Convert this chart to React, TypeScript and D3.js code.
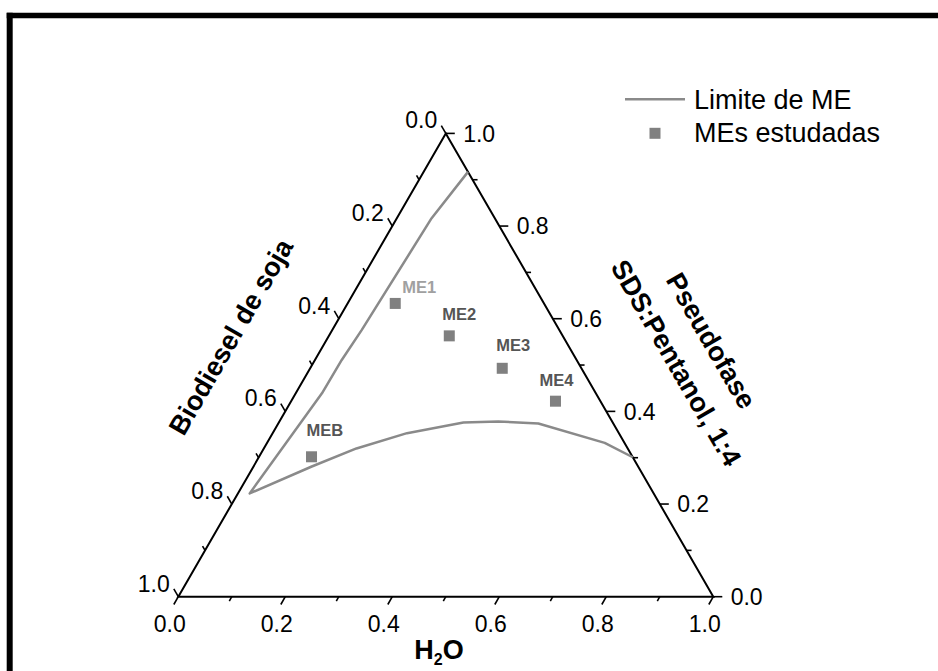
import React from "react";
import * as d3 from "d3";

// ---------- data ----------
const axisTicks = [0, 0.2, 0.4, 0.6, 0.8, 1.0];
const minorTicks = [0.1, 0.3, 0.5, 0.7, 0.9];

// Boundary of microemulsion region (Limite de ME): H2O and Pseudofase fractions
const limiteH2O = [0.083, 0.065, 0.055, 0.05, 0.049, 0.022, 0.109, 0.173, 0.251, 0.345, 0.409, 0.486, 0.631, 0.699];
const limitePseudo = [0.917, 0.817, 0.576, 0.511, 0.439, 0.223, 0.281, 0.32, 0.353, 0.376, 0.378, 0.374, 0.332, 0.301];

// Studied microemulsions (MEs estudadas)
const meNames = ["MEB", "ME1", "ME2", "ME3", "ME4"];
const meH2O = [0.098, 0.089, 0.225, 0.359, 0.494];
const mePseudo = [0.302, 0.633, 0.563, 0.493, 0.422];

// label styling / placement
const meLabelColors = ["#555555", "#a0a0a0", "#555555", "#555555", "#555555"];
const meLabelOffsets = [[-5, -27], [7, -16], [-7, -22], [-6, -23], [-16, -21]];

// ---------- layout ----------
const W = 938;
const H = 671;
const FONT = "'Liberation Sans', Arial, Helvetica, sans-serif";

const xS = d3.scaleLinear().domain([0, 1]).range([178.3, 713.3]);
const yS = d3.scaleLinear().domain([0, 1]).range([596.7, 133.4]);

// a = H2O (bottom), c = Pseudofase (right), b = Biodiesel = 1 - a - c
const proj = (a: number, c: number): [number, number] => [xS(a + c / 2), yS(c)];

const fmt = d3.format(".1f");

export default function App() {
  const limitePts = limiteH2O.map((a, i) => proj(a, limitePseudo[i]));
  const lineGen = d3.line<[number, number]>().x((d) => d[0]).y((d) => d[1]).curve(d3.curveLinear);

  const corners = [proj(0, 0), proj(1, 0), proj(0, 1)];
  const triPath = `M${corners[0][0]},${corners[0][1]}L${corners[1][0]},${corners[1][1]}L${corners[2][0]},${corners[2][1]}Z`;

  const allTicks = [...axisTicks.map((t) => ({ t, major: true })), ...minorTicks.map((t) => ({ t, major: false }))];

  const s3 = Math.sqrt(3) / 2;
  const dirBottom = [-0.5, s3];
  const dirLeft = [-0.5, -s3];
  const dirRight = [1, 0];

  const tickFs = 23;

  return (
    <svg
      width={W}
      height={H}
      style={{ position: "absolute", left: 0, top: 0, background: "#fff" }}
      fontFamily={FONT}
    >
      <rect x={0} y={0} width={W} height={H} fill="#fff" />
      {/* frame (clipped on right/bottom) */}
      <line x1={9.7} y1={12.7} x2={9.7} y2={H + 5} stroke="#000" strokeWidth={6} />
      <line x1={6.7} y1={15.5} x2={W + 5} y2={15.5} stroke="#000" strokeWidth={5.6} />

      {/* triangle */}
      <path d={triPath} fill="none" stroke="#000" strokeWidth={2} strokeLinejoin="miter" />

      {/* ticks */}
      {allTicks.map(({ t, major }, i) => {
        const len = major ? 9 : 5;
        const pb = proj(t, 0);
        const pl = proj(0, 1 - t);
        const pr = proj(1 - t, t);
        return (
          <g key={"tk" + i} stroke="#000" strokeWidth={1.6}>
            <line x1={pb[0]} y1={pb[1]} x2={pb[0] + dirBottom[0] * len} y2={pb[1] + dirBottom[1] * len} />
            <line x1={pl[0]} y1={pl[1]} x2={pl[0] + dirLeft[0] * len} y2={pl[1] + dirLeft[1] * len} />
            <line x1={pr[0]} y1={pr[1]} x2={pr[0] + dirRight[0] * len} y2={pr[1] + dirRight[1] * len} />
          </g>
        );
      })}

      {/* tick labels */}
      {axisTicks.map((t, i) => {
        const pb = proj(t, 0);
        const pl = proj(0, 1 - t);
        const pr = proj(1 - t, t);
        const eb = [pb[0] + dirBottom[0] * 9, pb[1] + dirBottom[1] * 9];
        const el = [pl[0] + dirLeft[0] * 9, pl[1] + dirLeft[1] * 9];
        return (
          <g key={"tl" + i} fontSize={tickFs} fill="#000">
            <text x={eb[0] - 4} y={632} textAnchor="middle">{fmt(t)}</text>
            <text x={el[0] - 4} y={el[1] - 5.5 + 8.3} textAnchor="end">{fmt(t)}</text>
            <text x={pr[0] + 17.4} y={pr[1] + 8.3} textAnchor="start">{fmt(t)}</text>
          </g>
        );
      })}

      {/* boundary line */}
      <path d={lineGen(limitePts) || ""} fill="none" stroke="#8a8a8a" strokeWidth={2.5} strokeLinejoin="round" />

      {/* studied points */}
      {meNames.map((name, i) => {
        const [x, y] = proj(meH2O[i], mePseudo[i]);
        const [dx, dy] = meLabelOffsets[i];
        return (
          <g key={name}>
            <rect x={x - 5.5} y={y - 5.5} width={11} height={11} fill="#808080" />
            <text
              x={x + dx}
              y={y + dy + 6}
              fontSize={16.5}
              fontWeight="bold"
              fill={meLabelColors[i]}
            >
              {name}
            </text>
          </g>
        );
      })}

      {/* axis titles */}
      <text x={439} y={659} textAnchor="middle" fontSize={27} fontWeight="bold">
        H<tspan fontSize={16} dy={6}>2</tspan>
        <tspan dy={-6}>O</tspan>
      </text>
      <text
        transform="translate(231,337) rotate(-60)"
        textAnchor="middle"
        dominantBaseline="central"
        fontSize={27}
        fontWeight="bold"
      >
        Biodiesel de soja
      </text>
      <text
        transform="translate(711,341) rotate(60)"
        textAnchor="middle"
        dominantBaseline="central"
        fontSize={27}
        fontWeight="bold"
      >
        Pseudofase
      </text>
      <text
        transform="translate(676,363) rotate(60)"
        textAnchor="middle"
        dominantBaseline="central"
        fontSize={27}
        fontWeight="bold"
      >
        SDS:Pentanol, 1:4
      </text>

      {/* legend */}
      <line x1={625} y1={99.3} x2={685} y2={99.3} stroke="#8a8a8a" strokeWidth={2.5} />
      <text x={694} y={108.5} fontSize={27}>Limite de ME</text>
      <rect x={655 - 5.5} y={133.3 - 5.5} width={11} height={11} fill="#808080" />
      <text x={694} y={142.3} fontSize={27}>MEs estudadas</text>
    </svg>
  );
}
